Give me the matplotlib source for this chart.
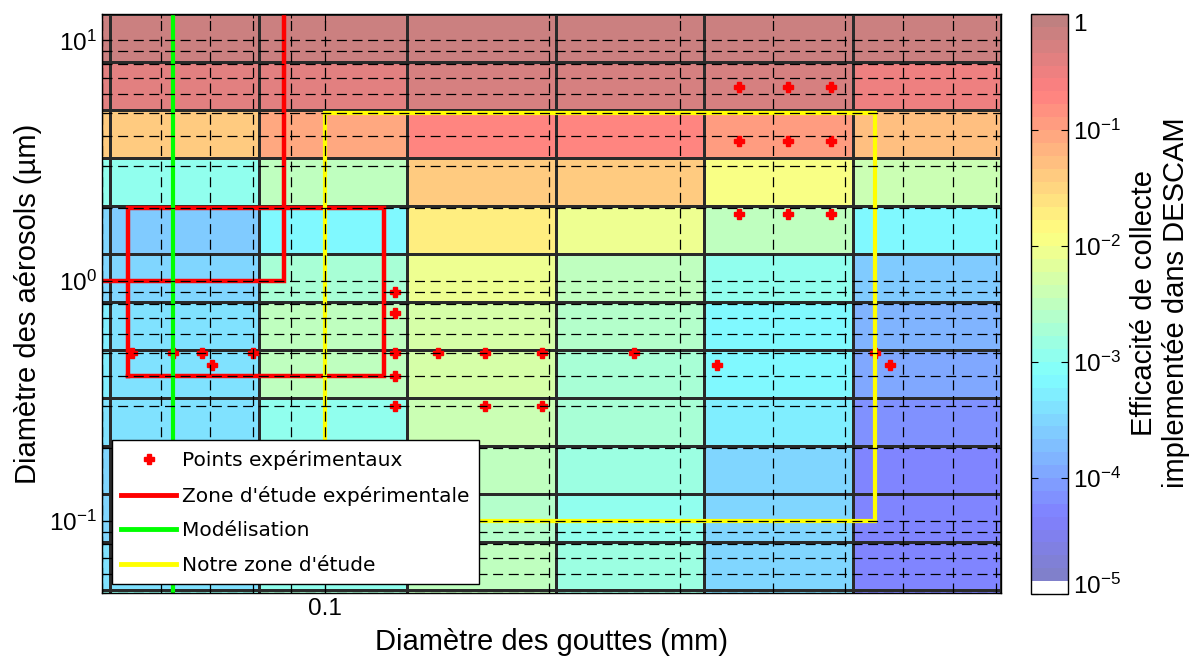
import numpy as np
import matplotlib
matplotlib.use("Agg")
import matplotlib.pyplot as plt
from matplotlib.colors import ListedColormap, LogNorm
from matplotlib.ticker import FixedLocator, FixedFormatter, LogLocator, NullFormatter
from matplotlib.lines import Line2D

plt.rcParams['font.family'] = 'Liberation Sans'
plt.rcParams['mathtext.fontset'] = 'custom'
plt.rcParams['mathtext.rm'] = 'Liberation Sans'
plt.rcParams['mathtext.it'] = 'Liberation Sans:italic'
plt.rcParams['mathtext.default'] = 'regular'

# cell edges of the DESCAM table (drops in mm, aerosols in um)
drop_edges = [0.0323, 0.0513, 0.0813, 0.1288, 0.2042, 0.3236, 0.5129, 0.8128]
aero_edges = [0.0323, 0.0513, 0.0813, 0.1288, 0.2042, 0.3236, 0.5129, 0.8128,
              1.288, 2.042, 3.236, 5.129, 8.128, 12.88]

# log10 of the collection efficiency, one row per aerosol bin (bottom -> top)
log_eff = [
    [-2.90, -2.90, -2.70, -2.50, -2.80, -3.40, -4.30],
    [-3.40, -3.40, -2.90, -2.51, -2.87, -3.47, -4.30],
    [-3.45, -3.45, -2.90, -2.56, -2.90, -3.50, -4.30],
    [-3.45, -3.45, -2.90, -2.46, -2.80, -3.51, -4.25],
    [-3.35, -3.42, -2.90, -2.41, -2.76, -3.27, -4.16],
    [-3.30, -3.35, -2.51, -2.23, -2.72, -3.22, -3.96],
    [-3.30, -3.35, -2.51, -2.27, -2.63, -3.12, -3.81],
    [-3.50, -3.55, -2.76, -2.10, -2.46, -2.90, -3.66],
    [-3.50, -3.57, -3.12, -1.77, -2.07, -2.51, -3.12],
    [-2.90, -2.90, -2.51, -1.44, -1.40, -1.97, -2.41],
    [-1.34, -1.34, -1.04, -0.77, -0.77, -0.99, -1.29],
    [-0.36, -0.36, -0.36, -0.23, -0.23, -0.30, -0.50],
    [-0.15, -0.15, -0.15, -0.15, -0.15, -0.15, -0.15],
]

# experimental points
pts_drop = [0.055, 0.0623, 0.0683, 0.0704, 0.080,
            0.124, 0.124, 0.124, 0.124, 0.124,
            0.142, 0.164, 0.164, 0.196, 0.196, 0.260, 0.337,
            0.360, 0.360, 0.360, 0.420, 0.420, 0.420, 0.479, 0.479, 0.479,
            0.550, 0.576]
pts_aero = [0.5, 0.5, 0.5, 0.445, 0.5,
            0.9, 0.73, 0.5, 0.4, 0.3,
            0.5, 0.5, 0.3, 0.5, 0.3, 0.5, 0.445,
            6.4, 3.8, 1.9, 6.4, 3.8, 1.9, 6.4, 3.8, 1.9,
            0.5, 0.445]

# zones
exp_a_x = [0.04, 0.088, 0.088]
exp_a_y = [1.0, 1.0, 20.0]
exp_b_x = [0.0542, 0.120, 0.120, 0.0542, 0.0542]
exp_b_y = [0.4, 0.4, 2.0, 2.0, 0.4]
model_x = [0.0623, 0.0623]
model_y = [0.01, 100.0]
ours_x = [0.1, 0.55, 0.55, 0.1, 0.1]
ours_y = [0.1, 0.1, 5.0, 5.0, 0.1]

labels = ["Points expérimentaux", "Zone d'étude expérimentale",
          "Modélisation", "Notre zone d'étude"]


# matlab jet, half transparent on white, first entry white
n = 45
t = np.linspace(0, 1, n)
r = np.clip(1.5 - np.abs(4 * t - 3), 0, 1)
g = np.clip(1.5 - np.abs(4 * t - 2), 0, 1)
b = np.clip(1.5 - np.abs(4 * t - 1), 0, 1)
cols = 0.5 + 0.5 * np.stack([r, g, b], axis=1)
cols[0] = [1, 1, 1]
cmap = ListedColormap(cols)
norm = LogNorm(1e-5, 1)

fig = plt.figure(figsize=(11.93, 6.57), dpi=100)
ax = fig.add_axes([101.7 / 1193, 64 / 657, 899.6 / 1193, 579 / 657])
ax.set_xscale('log')
ax.set_yscale('log')

mesh = ax.pcolormesh(drop_edges, aero_edges, 10 ** np.array(log_eff), cmap=cmap,
                     norm=norm, edgecolors='#2a2a2a', linewidth=0.75, zorder=0)

ax.plot(pts_drop, pts_aero, 'P', color='red', ms=7.5, zorder=2)
ax.plot(exp_a_x, exp_a_y, color='red', lw=3.2, solid_joinstyle='miter', zorder=2)
ax.plot(exp_b_x, exp_b_y, color='red', lw=3.2, solid_joinstyle='miter', zorder=2)
ax.plot(model_x, model_y, color='#00ff00', lw=3, zorder=2)
ax.plot(ours_x, ours_y, color='#ffff00', lw=3, solid_joinstyle='miter', zorder=2)

ax.set_xlim(0.05, 0.8128)
ax.set_ylim(0.05, 12.88)

ax.xaxis.set_major_locator(FixedLocator([0.1]))
ax.xaxis.set_major_formatter(FixedFormatter(['0.1']))
ax.xaxis.set_minor_locator(LogLocator(base=10, subs=np.arange(2, 10)))
ax.xaxis.set_minor_formatter(NullFormatter())
ax.yaxis.set_major_locator(FixedLocator([0.1, 1, 10]))
ax.yaxis.set_major_formatter(FixedFormatter([r'$10^{-1}$', r'$10^{0}$', r'$10^{1}$']))
ax.yaxis.set_minor_locator(LogLocator(base=10, subs=np.arange(2, 10)))
ax.yaxis.set_minor_formatter(NullFormatter())

ax.set_axisbelow(False)
ax.grid(True, which='both', color='k', linestyle=(0, (8, 4.5)), linewidth=0.9)
ax.tick_params(which='both', direction='in', top=True, right=True, labelsize=17.5, width=0.8)
ax.tick_params(which='major', length=6)
ax.tick_params(which='minor', length=3)
for s in ax.spines.values():
    s.set_linewidth(1.0)

ax.set_xlabel('Diamètre des gouttes (mm)', fontsize=21)
ax.set_ylabel('Diamètre des aérosols (µm)', fontsize=21)
ax.xaxis.set_label_coords(0.5, -0.0596)
ax.yaxis.set_label_coords(-0.0664, 0.5)

handles = [
    Line2D([], [], marker='P', color='red', ls='none', ms=7.5),
    Line2D([], [], color='red', lw=3.5),
    Line2D([], [], color='#00ff00', lw=3.5),
    Line2D([], [], color='#ffff00', lw=3.5),
]
leg = ax.legend(handles, labels, loc='lower left', bbox_to_anchor=(0.0111, 0.015),
                borderaxespad=0, fancybox=False, framealpha=1, edgecolor='k',
                prop={'family': 'DejaVu Sans', 'size': 14.5},
                handlelength=2.7, handletextpad=0.3, labelspacing=0.77, borderpad=0.48)
leg.get_frame().set_linewidth(1.0)
leg.set_zorder(10)

cax = fig.add_axes([1031 / 1193, 63 / 657, 37.3 / 1193, 580 / 657])
cb = fig.colorbar(mesh, cax=cax, ticks=[1e-5, 1e-4, 1e-3, 1e-2, 1e-1, 1])
cb.ax.minorticks_off()
cb.ax.yaxis.set_major_formatter(FixedFormatter(
    [r'$10^{-5}$', r'$10^{-4}$', r'$10^{-3}$', r'$10^{-2}$', r'$10^{-1}$', '1']))
cb.ax.tick_params(direction='in', left=True, right=True, length=5, width=0.8, labelsize=17.5)
cb.outline.set_linewidth(1.0)
tl = cb.ax.get_yticklabels()
tl[0].set_va('baseline')
tl[-1].set_va('top')

fig.text(1160 / 1193, 1 - 303 / 657, 'Efficacité de collecte\nimplementée dans DESCAM',
         rotation=90, ha='center', va='center', fontsize=21, multialignment='center',
         linespacing=1.2)

fig.savefig('out.png', dpi=100)
